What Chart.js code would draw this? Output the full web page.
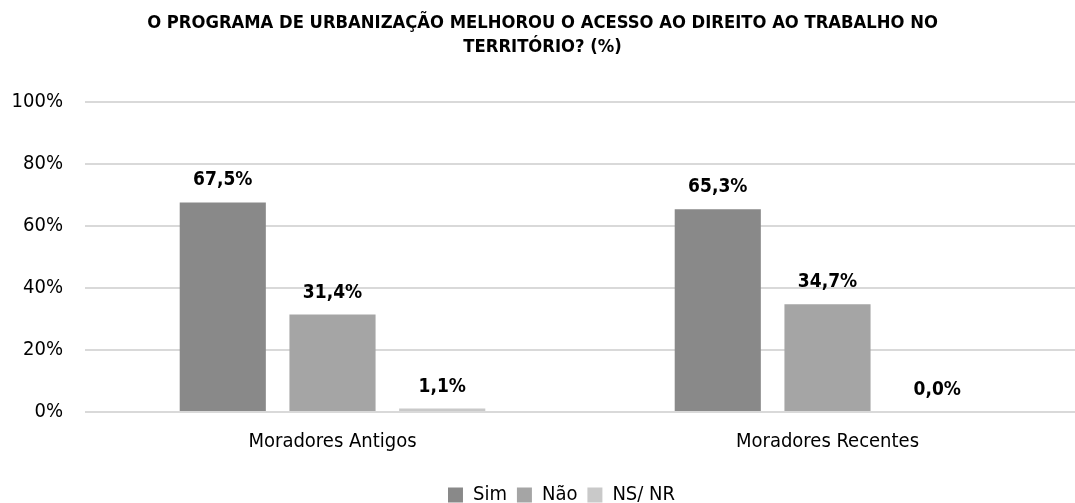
<!DOCTYPE html>
<html>
<head>
<meta charset="utf-8">
<script src="https://cdn.jsdelivr.net/npm/chart.js@4/dist/chart.umd.min.js"></script>
<style>
html,body{margin:0;padding:0;background:#fff;}
#wrap{width:1075px;height:503px;}
</style>
</head>
<body>
<div id="wrap"><canvas id="c" width="1075" height="503"></canvas></div>
<script>
const categories = ["Moradores Antigos", "Moradores Recentes"];
const seriesNames = ["Sim", "Não", "NS/ NR"];
const sim = [67.5, 65.3];
const nao = [31.4, 34.7];
const nsnr = [1.1, 0.0];
const yTicks = [0, 20, 40, 60, 80, 100];
const colors = ["#898989", "#a5a5a5", "#c9c9c9"];

const FONT = "'Liberation Sans Narrow', 'DejaVu Sans Condensed', 'Arial Narrow', sans-serif";

const labelPlugin = {
  id: 'valueLabels',
  afterDatasetsDraw(chart) {
    const ctx = chart.ctx;
    ctx.save();
    ctx.font = "bold 19px " + FONT;
    ctx.fillStyle = "#000";
    ctx.textAlign = "center";
    ctx.textBaseline = "alphabetic";
    chart.data.datasets.forEach((ds, i) => {
      const meta = chart.getDatasetMeta(i);
      meta.data.forEach((bar, j) => {
        const v = ds.data[j];
        const txt = v.toFixed(1).replace('.', ',') + '%';
        ctx.fillText(txt, bar.x, bar.y - 17);
      });
    });
    ctx.restore();
  }
};

const legendShift = {
  id: 'legendShift',
  afterLayout(chart) {
    if (chart.legend) {
      chart.legend.left += 19;
      chart.legend.right += 19;
    }
  }
};

new Chart(document.getElementById('c'), {
  type: 'bar',
  data: {
    labels: categories,
    datasets: [
      { label: seriesNames[0], data: sim, backgroundColor: colors[0] },
      { label: seriesNames[1], data: nao, backgroundColor: colors[1] },
      { label: seriesNames[2], data: nsnr, backgroundColor: colors[2] }
    ]
  },
  options: {
    responsive: false,
    animation: false,
    devicePixelRatio: 1,
    categoryPercentage: 0.665,
    barPercentage: 0.785,
    layout: { padding: { left: 0, right: -10, top: 0, bottom: -12 } },
    plugins: {
      title: {
        display: true,
        text: ["O PROGRAMA DE URBANIZAÇÃO MELHOROU O ACESSO AO DIREITO AO TRABALHO NO", "TERRITÓRIO? (%)"],
        color: "#000",
        font: { family: FONT, size: 18.25, weight: 'bold', lineHeight: 1.33 },
        padding: { top: 11, bottom: 42 }
      },
      legend: {
        position: 'bottom',
        labels: {
          color: "#000",
          font: { family: FONT, size: 20 },
          boxWidth: 15,
          boxHeight: 15,
          padding: 10
        }
      },
      tooltip: { enabled: false }
    },
    scales: {
      x: {
        grid: { display: false, drawTicks: false },
        border: { display: false },
        ticks: { color: "#000", font: { family: FONT, size: 20 }, padding: 18 },
        afterFit(scale) { scale.height = 63; }
      },
      y: {
        min: 0,
        max: 100,
        afterBuildTicks(scale) { scale.ticks = yTicks.map(v => ({ value: v })); },
        grid: { color: "#d9d9d9", lineWidth: 2, drawTicks: false },
        border: { display: false },
        ticks: {
          color: "#000",
          font: { family: FONT, size: 20 },
          padding: 22,
          callback: v => v + '%'
        },
        afterFit(scale) { scale.width = 85; }
      }
    }
  },
  plugins: [labelPlugin, legendShift]
});
</script>
</body>
</html>
